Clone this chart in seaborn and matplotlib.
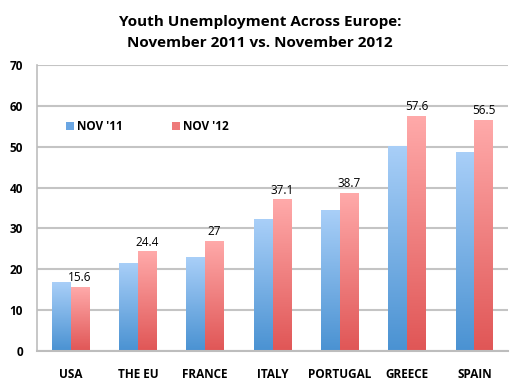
import numpy as np
import pandas as pd
import matplotlib
matplotlib.use("Agg")
import matplotlib.pyplot as plt
from matplotlib.colors import LinearSegmentedColormap
import seaborn as sns

countries = ["USA", "THE EU", "FRANCE", "ITALY", "PORTUGAL", "GREECE", "SPAIN"]
nov11 = [16.8, 21.6, 23.0, 32.2, 34.4, 50.2, 48.8]
nov12 = [15.6, 24.4, 27.0, 37.1, 38.7, 57.6, 56.5]
series = ["NOV '11", "NOV '12"]
yticks = [0, 10, 20, 30, 40, 50, 60, 70]

df = pd.DataFrame({
    "country": countries * 2,
    "value": nov11 + nov12,
    "series": [series[0]] * len(countries) + [series[1]] * len(countries),
})

sns.set_theme(style="white", rc={"text.color": "black", "xtick.color": "black",
                                  "ytick.color": "black"})
plt.rcParams["font.family"] = ["Open Sans", "DejaVu Sans"]

fig = plt.figure(figsize=(5.2, 3.86), dpi=100)
ax = fig.add_axes([37 / 520, 1 - 351 / 386, (508 - 37) / 520, (351 - 65) / 386])

palette = {series[0]: "#6aa6e3", series[1]: "#ee7a7a"}
sns.barplot(data=df, x="country", y="value", hue="series", palette=palette,
            width=0.56, ax=ax, saturation=1, linewidth=0, gap=0)

ax.set_ylim(0, 70)
ax.set_yticks(yticks)
ax.set_xlim(-0.5, len(countries) - 0.5)
ax.set_xlabel("")
ax.set_ylabel("")
ax.yaxis.grid(True, color="#c4c4c4", linewidth=1.5)
ax.set_axisbelow(True)
for s in ["top", "right"]:
    ax.spines[s].set_visible(False)
ax.spines["left"].set_color("#bdbdbd")
ax.spines["bottom"].set_color("#bdbdbd")
ax.spines["left"].set_linewidth(1.2)
ax.spines["bottom"].set_linewidth(1.5)
ax.tick_params(axis="both", length=0, colors="black")
ax.tick_params(axis="y", pad=10)
ax.tick_params(axis="x", pad=12)
for lbl in ax.get_yticklabels():
    lbl.set_fontweight("bold")
    lbl.set_fontsize(8.5)
for lbl in ax.get_xticklabels():
    lbl.set_fontweight("bold")
    lbl.set_fontsize(8.5)

# gradient fill
cmaps = [
    LinearSegmentedColormap.from_list("b", ["#4a92d2", "#a9cff8"]),
    LinearSegmentedColormap.from_list("r", ["#e05656", "#ffaaaa"]),
]
grad = np.linspace(0, 1, 256).reshape(-1, 1)
for ci, cont in enumerate(ax.containers):
    for p in cont.patches:
        x0, y0 = p.get_x(), p.get_y()
        w, h = p.get_width(), p.get_height()
        im = ax.imshow(grad, cmap=cmaps[ci], origin="lower", aspect="auto",
                       extent=[x0, x0 + w, y0, y0 + h], zorder=p.get_zorder() + 0.1)
        im.set_clip_path(p)
        p.set_facecolor("none")

ax.set_xlim(-0.5, len(countries) - 0.5)
ax.set_ylim(0, 70)

ax.bar_label(ax.containers[1], labels=[f"{v:g}" for v in nov12],
             padding=2, fontsize=8.5, color="black", zorder=5)

handles, labels = ax.get_legend_handles_labels()
leg = ax.legend(handles, labels, loc="center left", bbox_to_anchor=(0.04, 0.785),
                ncol=2, frameon=False, handlelength=0.6, handleheight=0.6,
                handletextpad=0.3, columnspacing=4.2,
                prop={"weight": "bold", "size": 8.5}, labelcolor="black")

fig.text(0.5, 1 - 22 / 386, "Youth Unemployment Across Europe:", ha="center",
         va="center", fontsize=11, fontweight="bold", color="black")
fig.text(0.5, 1 - 43 / 386, "November 2011 vs. November 2012", ha="center",
         va="center", fontsize=11, fontweight="bold", color="black")

fig.savefig("out.png", dpi=100)
